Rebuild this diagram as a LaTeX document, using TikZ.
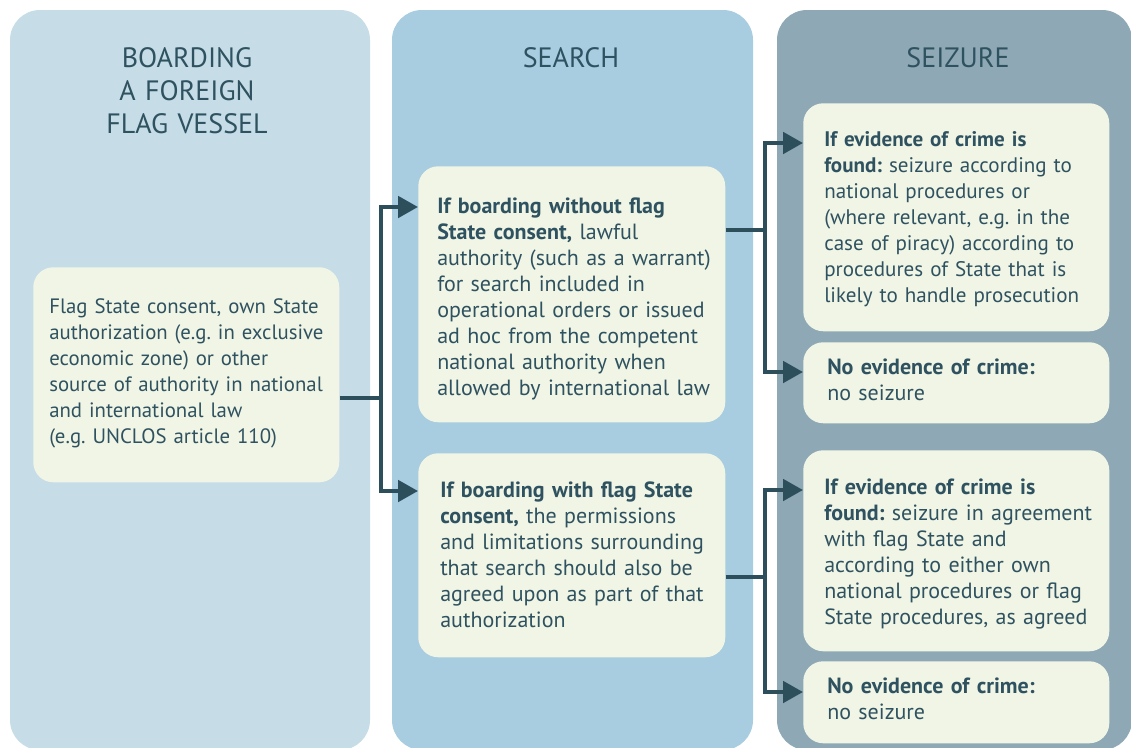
\documentclass[tikz,border=0pt]{standalone}
\usepackage{fontspec}
\setmainfont{PT Sans}
\usetikzlibrary{arrows.meta,calc}
\definecolor{pa}{HTML}{C6DCE7}
\definecolor{pb}{HTML}{A8CCE0}
\definecolor{pc}{HTML}{8EA8B5}
\definecolor{bx}{HTML}{F1F5E6}
\definecolor{tx}{HTML}{2F5260}
\definecolor{ar}{HTML}{2D4F5C}
\frenchspacing
\begin{document}
\begin{tikzpicture}[x=0.75pt,y=-0.75pt,
  panel/.style={rounded corners=22.5pt},
  box/.style n args={2}{fill=bx, rounded corners=15pt, anchor=north west, inner sep=0pt,
     minimum width=#1*0.75pt, minimum height=#2*0.75pt},
  body/.style={anchor=base west, inner sep=0pt, text width=300pt, align=left,
     font=\fontsize{#1}{19.5}\selectfont\frenchspacing, text=tx},
  body/.default=16.5,
  title/.style={anchor=base, inner sep=0pt, text width=300pt, align=center,
     font=\fontsize{21}{24.75}\selectfont, text=tx},
  link/.style={draw=ar, line width=3pt},
  arr/.style={link, -{Triangle[length=15pt,width=16pt]}}
]
\useasboundingbox (0,0) rectangle (1131,747);
\clip (0,0) rectangle (1131,747);
% panels
\fill[pa, panel] (10,10) rectangle (370,750);
\fill[pb, panel] (392,10) rectangle (753,750);
\fill[pc, panel] (777,10) rectangle (1132,750);
% titles
\node[title] (t1) at (187,67) {BOARDING\\A FOREIGN\\FLAG VESSEL};
\node[title] (t2) at (571,67) {SEARCH};
\node[title] (t3) at (958,67) {SEIZURE};
% boxes
\node[box={306}{215}] (lb) at (33,267) {};
\node[box={307}{256}] (sa) at (418,166) {};
\node[box={307}{204}] (sb) at (418,453) {};
\node[box={306}{228}] (z1) at (803,103) {};
\node[box={306}{81}] (z2) at (803,342) {};
\node[box={306}{201}] (z3) at (803,450) {};
\node[box={306}{82}] (z4) at (803,661) {};
% texts
\node[body=15.6] (lbt) at (49,313) {Flag State consent, own State\\authorization (e.g. in exclusive\\economic zone) or other\\source of authority in national\\and international law\\(e.g. UNCLOS article 110)};
\node[body] (sat) at (437,213) {\textbf{If boarding without flag}\\\textbf{State consent,} lawful\\authority (such as a warrant)\\for search included in\\operational orders or issued\\ad hoc from the competent\\national authority when\\allowed by international law};
\node[body] (sbt) at (440,497) {\textbf{If boarding with flag State}\\\textbf{consent,} the permissions\\and limitations surrounding\\that search should also be\\agreed upon as part of that\\authorization};
\node[body=15.8] (z1t) at (824,146) {\textbf{If evidence of crime is}\\\textbf{found:} seizure according to\\national procedures or\\(where relevant, e.g. in the\\case of piracy) according to\\procedures of State that is\\likely to handle prosecution};
\node[body] (z2t) at (827,374) {\textbf{No evidence of crime:}\\no seizure};
\node[body] (z3t) at (824,494) {\textbf{If evidence of crime is}\\\textbf{found:} seizure in agreement\\with flag State and\\according to either own\\national procedures or flag\\State procedures, as agreed};
\node[body] (z4t) at (827,693) {\textbf{No evidence of crime:}\\no seizure};
% connectors
\coordinate (j1) at (381,398);
\coordinate (j2) at (765,230);
\coordinate (j3) at (765,577);
\draw[link] (lb.east |- j1) -- (j1);
\draw[arr] (j1) |- ($(sa.north west)+(0,41)$);
\draw[arr] (j1) |- ($(sb.north west)+(0,38)$);
\draw[link] (sa.east |- j2) -- (j2);
\draw[arr] (j2) |- ($(z1.north west)+(0,40)$);
\draw[arr] (j2) |- ($(z2.north west)+(0,30)$);
\draw[link] (sb.east |- j3) -- (j3);
\draw[arr] (j3) |- ($(z3.north west)+(0,40)$);
\draw[arr] (j3) |- ($(z4.north west)+(0,31)$);
\end{tikzpicture}
\end{document}
